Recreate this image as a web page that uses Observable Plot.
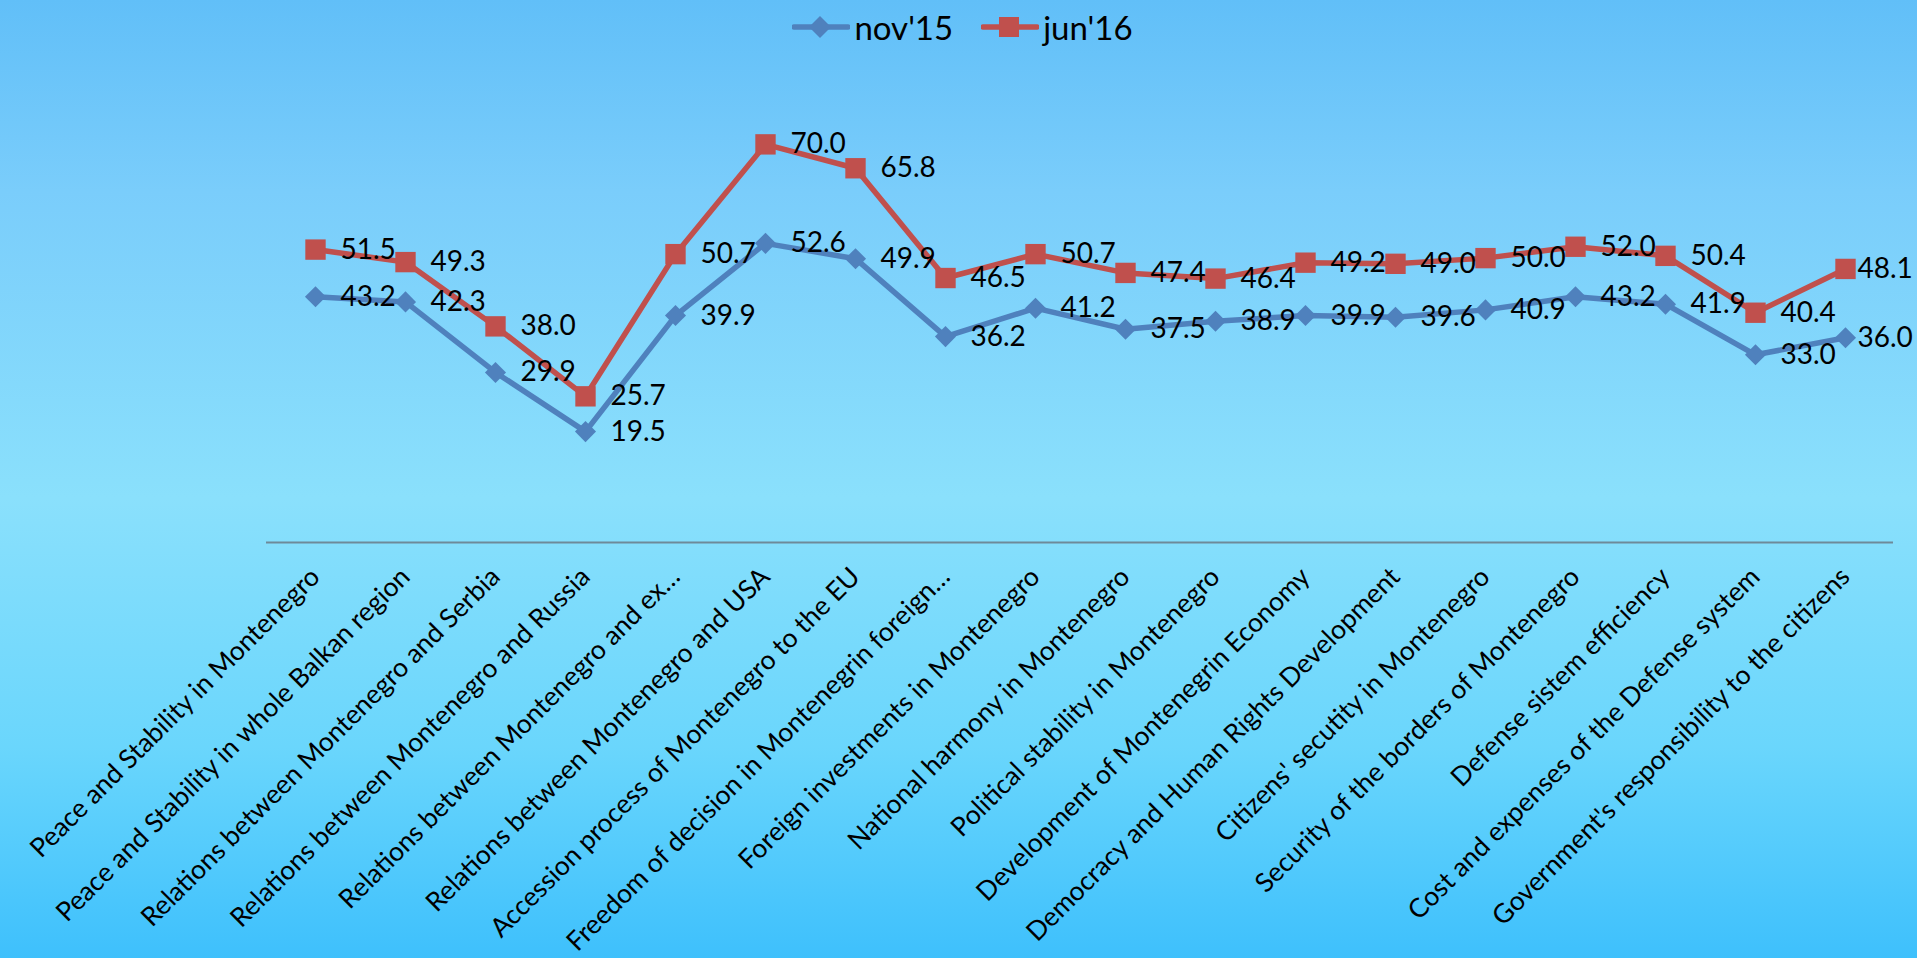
<!DOCTYPE html>
<html>
<head>
<meta charset="utf-8">
<script src="https://cdn.jsdelivr.net/npm/d3@7"></script>
<script src="https://cdn.jsdelivr.net/npm/@observablehq/plot@0.6"></script>
<style>
  html, body { margin: 0; padding: 0; }
  body {
    width: 1917px; height: 958px; overflow: hidden;
    background: linear-gradient(to bottom, #61bff8 0%, #7acdfb 20%, #8ae0fc 52%, #6ad6fc 78%, #3ec0fc 100%);
    font-family: Lato, "Open Sans", sans-serif;
  }
  #legend {
    height: 54px; display: flex; justify-content: center; align-items: center;
    gap: 28px; font-size: 33px; color: #000; padding-left: 8px; box-sizing: border-box;
  }
  #legend .item { display: flex; align-items: center; gap: 4px; }
  #chart svg { display: block; }
</style>
</head>
<body>
<div id="legend"></div>
<div id="chart"></div>
<script>
const categories = [
  "Peace and Stability in Montenegro",
  "Peace and Stability in whole Balkan region",
  "Relations between Montenegro and Serbia",
  "Relations between Montenegro and Russia",
  "Relations between Montenegro and ex…",
  "Relations between Montenegro and USA",
  "Accession process of Montenegro to the EU",
  "Freedom of decision in Montenegrin foreign…",
  "Foreign investments in Montenegro",
  "National harmony in Montenegro",
  "Political stability in Montenegro",
  "Development of Montenegrin Economy",
  "Democracy and Human Rights Development",
  "Citizens' secutity in Montenegro",
  "Security of the borders of Montenegro",
  "Defense sistem efficiency",
  "Cost and expenses of the Defense system",
  "Government's responsibility to the citizens"
];
const nov15 = [43.2, 42.3, 29.9, 19.5, 39.9, 52.6, 49.9, 36.2, 41.2, 37.5, 38.9, 39.9, 39.6, 40.9, 43.2, 41.9, 33.0, 36.0];
const jun16 = [51.5, 49.3, 38.0, 25.7, 50.7, 70.0, 65.8, 46.5, 50.7, 47.4, 46.4, 49.2, 49.0, 50.0, 52.0, 50.4, 40.4, 48.1];
const seriesNames = ["nov'15", "jun'16"];
const seriesColors = ["#4F81BD", "#C0504D"];
const seriesSymbols = ["diamond2", "square"];

const data = categories.flatMap((c, i) => [
  {category: c, series: seriesNames[0], value: nov15[i]},
  {category: c, series: seriesNames[1], value: jun16[i]}
]);
const lastCategory = categories[categories.length - 1];

// Legend (HTML, real text)
const legend = document.getElementById("legend");
seriesNames.forEach((name, i) => {
  const item = document.createElement("span");
  item.className = "item";
  const marker = i === 0
    ? `<path d="M28,-11 L39,0 L28,11 L17,0 Z" transform="translate(0,15)" fill="${seriesColors[i]}"/>`
    : `<rect x="18" y="5" width="20" height="20" fill="${seriesColors[i]}"/>`;
  item.innerHTML = `<svg width="58" height="30"><line x1="2" x2="56" y1="15" y2="15" stroke="${seriesColors[i]}" stroke-width="5.5" stroke-linecap="round"/>${marker}</svg><span>${name}</span>`;
  legend.appendChild(item);
});

const chart = Plot.plot({
  width: 1917,
  height: 904,
  marginLeft: 266,
  marginRight: 24,
  marginTop: 33,
  marginBottom: 416,
  x: {type: "point", domain: categories, padding: 0.5, label: null},
  y: {domain: [0, 80], axis: null},
  color: {domain: seriesNames, range: seriesColors},
  symbol: {domain: seriesNames, range: seriesSymbols},
  style: {background: "transparent", fontFamily: "Lato, 'Open Sans', sans-serif", color: "#000", overflow: "visible"},
  marks: [
    Plot.ruleY([0], {stroke: "#6e8a99", strokeWidth: 2}),
    Plot.line(data, {x: "category", y: "value", z: "series", stroke: "series", strokeWidth: 5.5}),
    Plot.dot(data.filter(d => d.series === seriesNames[0]), {x: "category", y: "value", symbol: "series", fill: "series", r: 9.5}),
    Plot.dot(data.filter(d => d.series === seriesNames[1]), {x: "category", y: "value", symbol: "series", fill: "series", r: 11.5}),
    Plot.text(data.filter(d => d.category !== lastCategory), {x: "category", y: "value", text: d => d.value.toFixed(1), dx: 25, textAnchor: "start", fontSize: 28, fill: "#000"}),
    Plot.text(data.filter(d => d.category === lastCategory), {x: "category", y: "value", text: d => d.value.toFixed(1), dx: 12, textAnchor: "start", fontSize: 28, fill: "#000"}),
    Plot.axisX({tickRotate: -45, tickSize: 0, tickPadding: 30, fontSize: 26.5, fill: "#000"})
  ]
});
document.getElementById("chart").appendChild(chart);
</script>
</body>
</html>
